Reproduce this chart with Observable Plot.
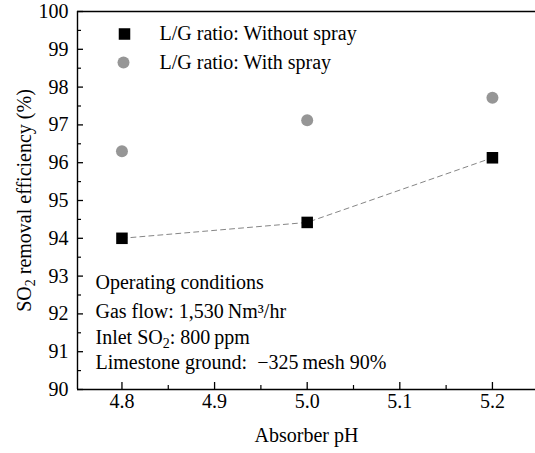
<!DOCTYPE html>
<html>
<head>
<meta charset="utf-8">
<script src="https://cdn.jsdelivr.net/npm/d3@7"></script>
<script src="https://cdn.jsdelivr.net/npm/@observablehq/plot@0.6"></script>
<style>
  html, body { margin: 0; padding: 0; background: #fff; }
</style>
</head>
<body>
<div id="chart"></div>
<script>
// ---- data ----
const pH = [4.8, 5.0, 5.2];
const withoutSpray = [94.0, 94.42, 96.13];
const withSpray = [96.3, 97.12, 97.72];
const xTicks = [4.8, 4.9, 5.0, 5.1, 5.2];
const xMinorTicks = [4.85, 4.95, 5.05, 5.15];
const yTicks = [90, 91, 92, 93, 94, 95, 96, 97, 98, 99, 100];
const yMinorTicks = [90.5, 91.5, 92.5, 93.5, 94.5, 95.5, 96.5, 97.5, 98.5, 99.5];
const legendLabels = ["L/G ratio: Without spray", "L/G ratio: With spray"];
const noteLines = [
  "Operating conditions",
  "Gas flow: 1,530\u2009Nm³/hr",
  "Inlet SO2: 800\u2009ppm",
  "Limestone ground:\u00a0 \u2212325\u2009mesh 90%"
];
const xLabel = "Absorber pH";
const yLabel = "SO2 removal efficiency (%)";

const rowsWithout = pH.map((x, i) => ({x, y: withoutSpray[i]}));
const rowsWith = pH.map((x, i) => ({x, y: withSpray[i]}));

const W = 535, H = 453;
const mL = 77, mR = 0, mT = 11, mB = 64;
const fw = W - mL - mR, fh = H - mT - mB;
const xDomain = [4.752, 5.2465];

const plot = Plot.plot({
  width: W,
  height: H,
  marginLeft: mL, marginRight: mR, marginTop: mT, marginBottom: mB,
  style: {fontFamily: "'Liberation Serif', 'Times New Roman', serif", fontSize: "20px", color: "black", background: "white"},
  x: {domain: xDomain, axis: null},
  y: {domain: [90, 100], axis: null},
  marks: [
    // frame lines
    Plot.ruleY([90, 100], {stroke: "black", strokeWidth: 1.4}),
    Plot.ruleX([xDomain[0]], {stroke: "black", strokeWidth: 1.4}),
    // ticks (inward)
    Plot.ruleX(xTicks, {insetTop: fh - 7, stroke: "black", strokeWidth: 1.3}),
    Plot.ruleX(xMinorTicks, {insetTop: fh - 4, stroke: "black", strokeWidth: 1.2}),
    Plot.ruleY(yTicks, {insetRight: fw - 6, stroke: "black", strokeWidth: 1.3}),
    Plot.ruleY(yMinorTicks, {insetRight: fw - 4, stroke: "black", strokeWidth: 1.2}),
    // tick labels
    Plot.axisX({ticks: xTicks, tickSize: 0, tickPadding: 4, tickFormat: d3.format(".1f"), label: null, fontSize: 20}),
    Plot.axisY({ticks: yTicks, tickSize: 0, tickPadding: 9, label: null, fontSize: 20}),
    // axis titles
    Plot.text([xLabel], {frameAnchor: "bottom", dy: 46, textAnchor: "middle", lineAnchor: "middle", fontSize: 20}),
    Plot.text([yLabel], {frameAnchor: "left", dx: -53, rotate: -90, textAnchor: "middle", lineAnchor: "middle", fontSize: 20}),
    // data
    Plot.line(rowsWithout, {x: "x", y: "y", stroke: "#666", strokeWidth: 0.8, strokeDasharray: "5,4"}),
    Plot.dot(rowsWithout, {x: "x", y: "y", symbol: "square", r: 6.5, fill: "black", stroke: "none"}),
    Plot.dot(rowsWith, {x: "x", y: "y", symbol: "circle", r: 6, fill: "url(#grain)", stroke: "none"}),
    // legend
    Plot.dot([legendLabels[0]], {frameAnchor: "top-left", dx: 47, dy: 22.5, symbol: "square", r: 6.5, fill: "black", stroke: "none"}),
    Plot.dot([legendLabels[1]], {frameAnchor: "top-left", dx: 46, dy: 51, symbol: "circle", r: 6, fill: "url(#grain)", stroke: "none"}),
    Plot.text([legendLabels[0]], {frameAnchor: "top-left", dx: 82, dy: 22, textAnchor: "start", lineAnchor: "middle", fontSize: 20}),
    Plot.text([legendLabels[1]], {frameAnchor: "top-left", dx: 82, dy: 51, textAnchor: "start", lineAnchor: "middle", fontSize: 20}),
    // operating conditions
    Plot.text([noteLines[0]], {frameAnchor: "bottom-left", dx: 18, dy: -107, textAnchor: "start", lineAnchor: "middle", fontSize: 20}),
    Plot.text([noteLines[1]], {frameAnchor: "bottom-left", dx: 18, dy: -78, textAnchor: "start", lineAnchor: "middle", fontSize: 20}),
    Plot.text([noteLines[2]], {frameAnchor: "bottom-left", dx: 18, dy: -52, textAnchor: "start", lineAnchor: "middle", fontSize: 20}),
    Plot.text([noteLines[3]], {frameAnchor: "bottom-left", dx: 18, dy: -26.5, textAnchor: "start", lineAnchor: "middle", fontSize: 20})
  ]
});

// grainy gray pattern for "with spray" markers
const ns = "http://www.w3.org/2000/svg";
const defs = document.createElementNS(ns, "defs");
defs.innerHTML = `<pattern id="grain" patternUnits="userSpaceOnUse" width="2" height="2">
  <rect width="2" height="2" fill="#b4b4b4"/>
  <rect width="1" height="1" fill="#6e6e6e"/>
  <rect x="1" y="1" width="1" height="1" fill="#828282"/>
</pattern>`;
plot.insertBefore(defs, plot.firstChild);

// subscripts for SO2
plot.querySelectorAll("text").forEach(t => {
  if (t.children.length === 0 && t.textContent.includes("SO2")) {
    const parts = t.textContent.split("SO2");
    t.textContent = "";
    const add = (txt, attrs) => {
      const s = document.createElementNS(ns, "tspan");
      s.textContent = txt;
      for (const k in attrs) s.setAttribute(k, attrs[k]);
      t.appendChild(s);
    };
    add(parts[0] + "SO", {});
    add("2", {dy: "4", "font-size": "14"});
    add(parts.slice(1).join("SO2"), {dy: "-4"});
  }
});

document.getElementById("chart").appendChild(plot);
</script>
</body>
</html>
